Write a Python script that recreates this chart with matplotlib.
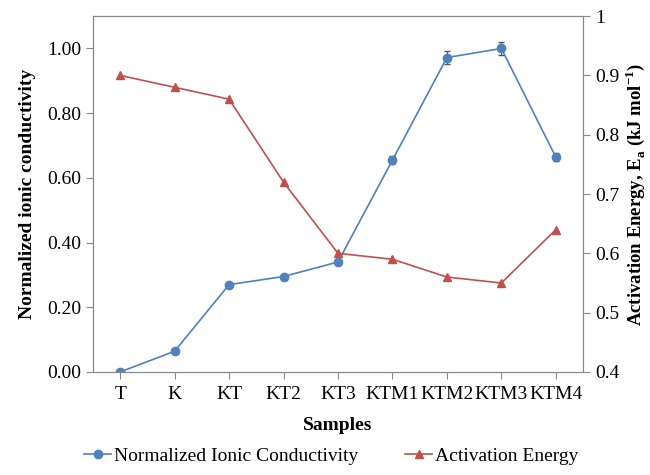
import numpy as np
import matplotlib
matplotlib.use('Agg')
import matplotlib.pyplot as plt
from matplotlib.lines import Line2D
from matplotlib.ticker import FormatStrFormatter, FuncFormatter

samples = ["T", "K", "KT", "KT2", "KT3", "KTM1", "KTM2", "KTM3", "KTM4"]
conductivity = [0.0, 0.064, 0.27, 0.295, 0.34, 0.655, 0.972, 1.0, 0.664]
cond_err = [0.003, 0.003, 0.004, 0.004, 0.005, 0.012, 0.02, 0.02, 0.012]
activation = [0.90, 0.88, 0.86, 0.72, 0.60, 0.59, 0.56, 0.55, 0.64]

plt.rcParams['font.family'] = ['Liberation Serif', 'DejaVu Serif']
plt.rcParams['mathtext.fontset'] = 'custom'
plt.rcParams['mathtext.rm'] = 'Liberation Serif'
plt.rcParams['mathtext.bf'] = 'Liberation Serif:bold'

blue = '#4F81BD'
red = '#C0504D'
grey = '#888888'
fs = 14

fig = plt.figure(figsize=(6.5, 4.75), dpi=100)
ax = fig.add_axes([0.143, 0.217, 0.754, 0.749])
ax2 = ax.twinx()

x = np.arange(len(samples))
ax.errorbar(x, conductivity, yerr=cond_err, color=blue, marker='o', markersize=6,
            linewidth=1.2, ecolor='#555555', elinewidth=0.8, capsize=2.5)
ax2.plot(x, activation, color=red, marker='^', markersize=6, linewidth=1.2)

ax.set_xlim(-0.5, len(samples) - 0.5)
ax.set_ylim(0, 1.1)
ax.set_yticks(np.arange(0, 1.01, 0.2))
ax.yaxis.set_major_formatter(FormatStrFormatter('%.2f'))
ax2.set_ylim(0.4, 1.0)
ax2.set_yticks(np.arange(0.4, 1.01, 0.1))
ax2.yaxis.set_major_formatter(FuncFormatter(lambda v, p: '%g' % round(v, 1)))
ax.set_xticks(x)
ax.set_xticklabels(samples)

for a in (ax, ax2):
    for s in a.spines.values():
        s.set_color(grey)
    a.tick_params(colors=grey, labelcolor='black', labelsize=fs, direction='out', length=5)
ax.tick_params(axis='x', pad=5)

ax.set_xlabel('Samples', fontsize=fs, fontweight='bold', labelpad=10)
ax.set_ylabel('Normalized ionic conductivity', fontsize=fs, fontweight='bold', labelpad=8)
ax2.set_ylabel(r'Activation Energy, E$_\mathbf{a}$ (kJ mol$^\mathbf{-1}$)', fontsize=13.5,
               fontweight='bold', labelpad=3)

h1 = Line2D([], [], color=blue, marker='o', markersize=6, linewidth=1.2)
h2 = Line2D([], [], color=red, marker='^', markersize=6, linewidth=1.2)
fig.legend([h1, h2], ['Normalized Ionic Conductivity', 'Activation Energy'],
           loc='lower center', bbox_to_anchor=(0.51, -0.015), ncol=2, frameon=False,
           fontsize=fs, handlelength=1.4, handletextpad=0.15, columnspacing=2.4)

fig.savefig('out.png', dpi=100)
